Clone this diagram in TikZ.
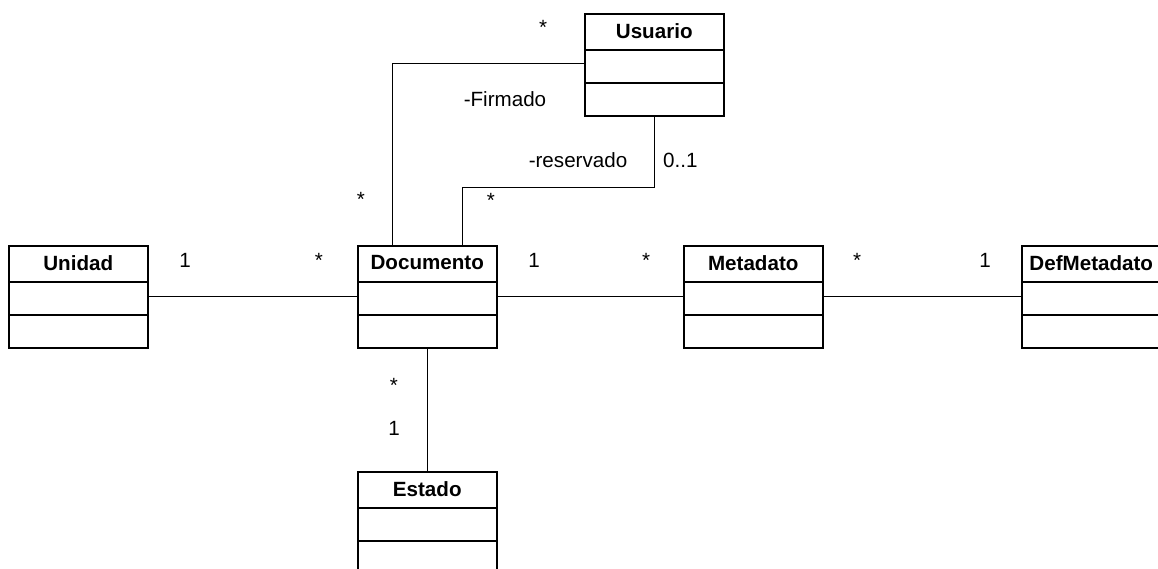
\documentclass[tikz,border=0pt]{standalone}
\usepackage{fontspec}
\setmainfont{Liberation Sans}
\usetikzlibrary{calc}

\tikzset{
  classbox/.style={draw, line width=1.5pt, minimum width=139pt, minimum height=102pt,
                   anchor=north west, inner sep=0pt},
  classtitle/.style={font=\bfseries\fontsize{20.6}{24}\selectfont, anchor=center, inner sep=0pt},
  compart/.style={line width=1.5pt},
  lbl/.style={font=\fontsize{20.6}{24}\selectfont, anchor=base, inner sep=0pt},
  assoc/.style={line width=1pt},
}

% UML class: name, left, top, title
\newcommand\umlclass[4]{%
  \node[classbox] (#1) at (#2,#3) {};
  \node[classtitle] (#1-title) at ($(#1.north)+(0,18)$) {#4};
  \draw[compart] ($(#1.north west)+(0,37)$) -- ($(#1.north east)+(0,37)$);
  \draw[compart] ($(#1.north west)+(0,70)$) -- ($(#1.north east)+(0,70)$);
}

\begin{document}
\begin{tikzpicture}[x=1pt, y=-1pt]
  \clip (0,0) rectangle (1158,568);
  \fill[white] (0,0) rectangle (1158,568);

  % classes
  \umlclass{unidad}{8}{245}{Unidad}
  \umlclass{documento}{357}{245}{Documento}
  \umlclass{metadato}{683}{245}{Metadato}
  \umlclass{defmetadato}{1021}{245}{DefMetadato}
  \umlclass{usuario}{584}{13}{Usuario}
  \umlclass{estado}{357}{471}{Estado}

  % horizontal associations
  \draw[assoc] ($(unidad.north east)+(0,51)$) -- ($(documento.north west)+(0,51)$);
  \draw[assoc] ($(documento.north east)+(0,51)$) -- ($(metadato.north west)+(0,51)$);
  \draw[assoc] ($(metadato.north east)+(0,51)$) -- ($(defmetadato.north west)+(0,51)$);

  % Documento -- Estado
  \draw[assoc] (documento.south) -- (estado.north);

  % Documento -- Usuario (Firmado)
  \coordinate (firmA) at ($(documento.north west)+(35,0)$);
  \coordinate (firmB) at ($(usuario.north west)+(0,50)$);
  \draw[assoc] (firmA) |- (firmB);

  % Documento -- Usuario (reservado)
  \coordinate (resA) at ($(documento.north west)+(105,0)$);
  \coordinate (resB) at ($(usuario.south west)+(70,0)$);
  \coordinate (resC) at (resB |- 0,187);
  \draw[assoc] (resA) |- (resC) -- (resB);

  % multiplicities and roles
  \node[lbl] (m1) at (185,267) {1};
  \node[lbl] (m2) at (319,267) {*};
  \node[lbl] (m3) at (534,267) {1};
  \node[lbl] (m4) at (646,267) {*};
  \node[lbl] (m5) at (857,267) {*};
  \node[lbl] (m6) at (985,267) {1};
  \node[lbl] (m7) at (394,392) {*};
  \node[lbl] (m8) at (394,435) {1};
  \node[lbl] (m9) at (361,206) {*};
  \node[lbl] (m10) at (491,207) {*};
  \node[lbl] (m11) at (543,34) {*};
  \node[lbl] (r1) at (505,106) {-Firmado};
  \node[lbl] (r2) at (578,167) {-reservado};
  \node[lbl, anchor=base west] (m12) at (663,167) {0..1};
\end{tikzpicture}
\end{document}
